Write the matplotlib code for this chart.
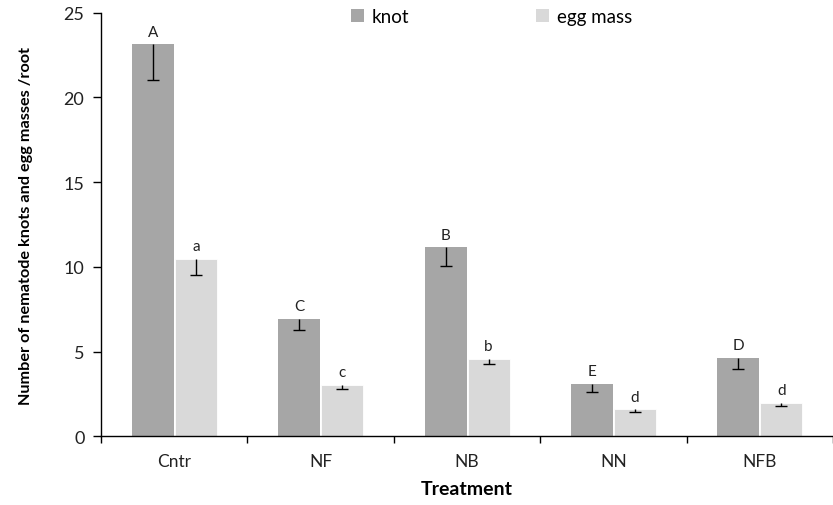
import matplotlib
matplotlib.use("Agg")
import matplotlib.pyplot as plt
import numpy as np
from matplotlib.patches import Patch

categories = ["Cntr", "NF", "NB", "NN", "NFB"]
knot = [23.15, 6.95, 11.15, 3.1, 4.65]
knot_err = [2.1, 0.65, 1.1, 0.5, 0.65]
egg = [10.5, 3.05, 4.6, 1.6, 2.0]
egg_err = [1.0, 0.25, 0.35, 0.15, 0.18]
knot_letters = ["A", "C", "B", "E", "D"]
egg_letters = ["a", "c", "b", "d", "d"]
yticks = [0, 5, 10, 15, 20, 25]

plt.rcParams['font.family'] = ['Lato', 'DejaVu Sans']

fig = plt.figure(figsize=(8.33, 5.06), dpi=100)
ax = fig.add_axes([0.1213, 0.1354, 0.8787, 0.8375])

x = np.arange(len(categories))
w = 0.287
knot_c = "#a6a6a6"
egg_c = "#d9d9d9"

ax.bar(x - w/2 - 0.003, knot, width=w, color=knot_c, edgecolor="none", zorder=2)
ax.bar(x + w/2 + 0.004, egg, width=w, color=egg_c, edgecolor="white", linewidth=0.6, zorder=2)

for xs, vals, errs in [(x - w/2 - 0.003, knot, knot_err), (x + w/2 + 0.004, egg, egg_err)]:
    eb = ax.errorbar(xs, vals, yerr=[errs, np.zeros(len(errs))], fmt="none",
                     ecolor="black", elinewidth=1.0, capsize=4, capthick=1.0, zorder=3)
    caps = eb[1]
    if len(caps) > 1:
        caps[1].set_visible(False)

for xs, vals, labs in [(x - w/2 - 0.003, knot, knot_letters), (x + w/2 + 0.004, egg, egg_letters)]:
    for xi, v, l in zip(xs, vals, labs):
        ax.annotate(l, (xi, v), xytext=(0, 4), textcoords="offset points",
                    ha="center", va="bottom", fontsize=11, color="#222222")

ax.set_xlim(-0.5, len(categories) - 0.5)
ax.set_ylim(0, 25)
ax.set_yticks(yticks)
ax.set_yticklabels([str(t) for t in yticks], fontsize=13, color="#222222")
ax.set_xticks(x)
ax.set_xticklabels(categories, fontsize=12.5, color="#222222")
ax.tick_params(axis="x", which="major", length=0, pad=12)
ax.set_xticks(np.arange(len(categories) + 1) - 0.5, minor=True)
ax.tick_params(axis="x", which="minor", length=5, width=1, direction="out", color="black")
ax.tick_params(axis="y", length=6, width=1, direction="out", pad=6)

for s in ["top", "right"]:
    ax.spines[s].set_visible(False)
ax.spines["left"].set_linewidth(1.0)
ax.spines["bottom"].set_linewidth(1.0)

ax.set_xlabel("Treatment", fontsize=14, fontweight="bold", labelpad=8)
ax.set_ylabel("Number of nematode knots and egg masses /root", fontsize=11.7,
              fontweight="bold", labelpad=22)

handles = [Patch(facecolor=knot_c, edgecolor="none", label="knot"),
           Patch(facecolor=egg_c, edgecolor="none", label="egg mass")]
ax.legend(handles=handles, ncol=2, frameon=False, fontsize=13.5,
          loc="upper left", bbox_to_anchor=(0.318, 1.05),
          handlelength=0.7, handleheight=0.7, handletextpad=0.4,
          columnspacing=6.8)

fig.savefig("out.png", dpi=100)
